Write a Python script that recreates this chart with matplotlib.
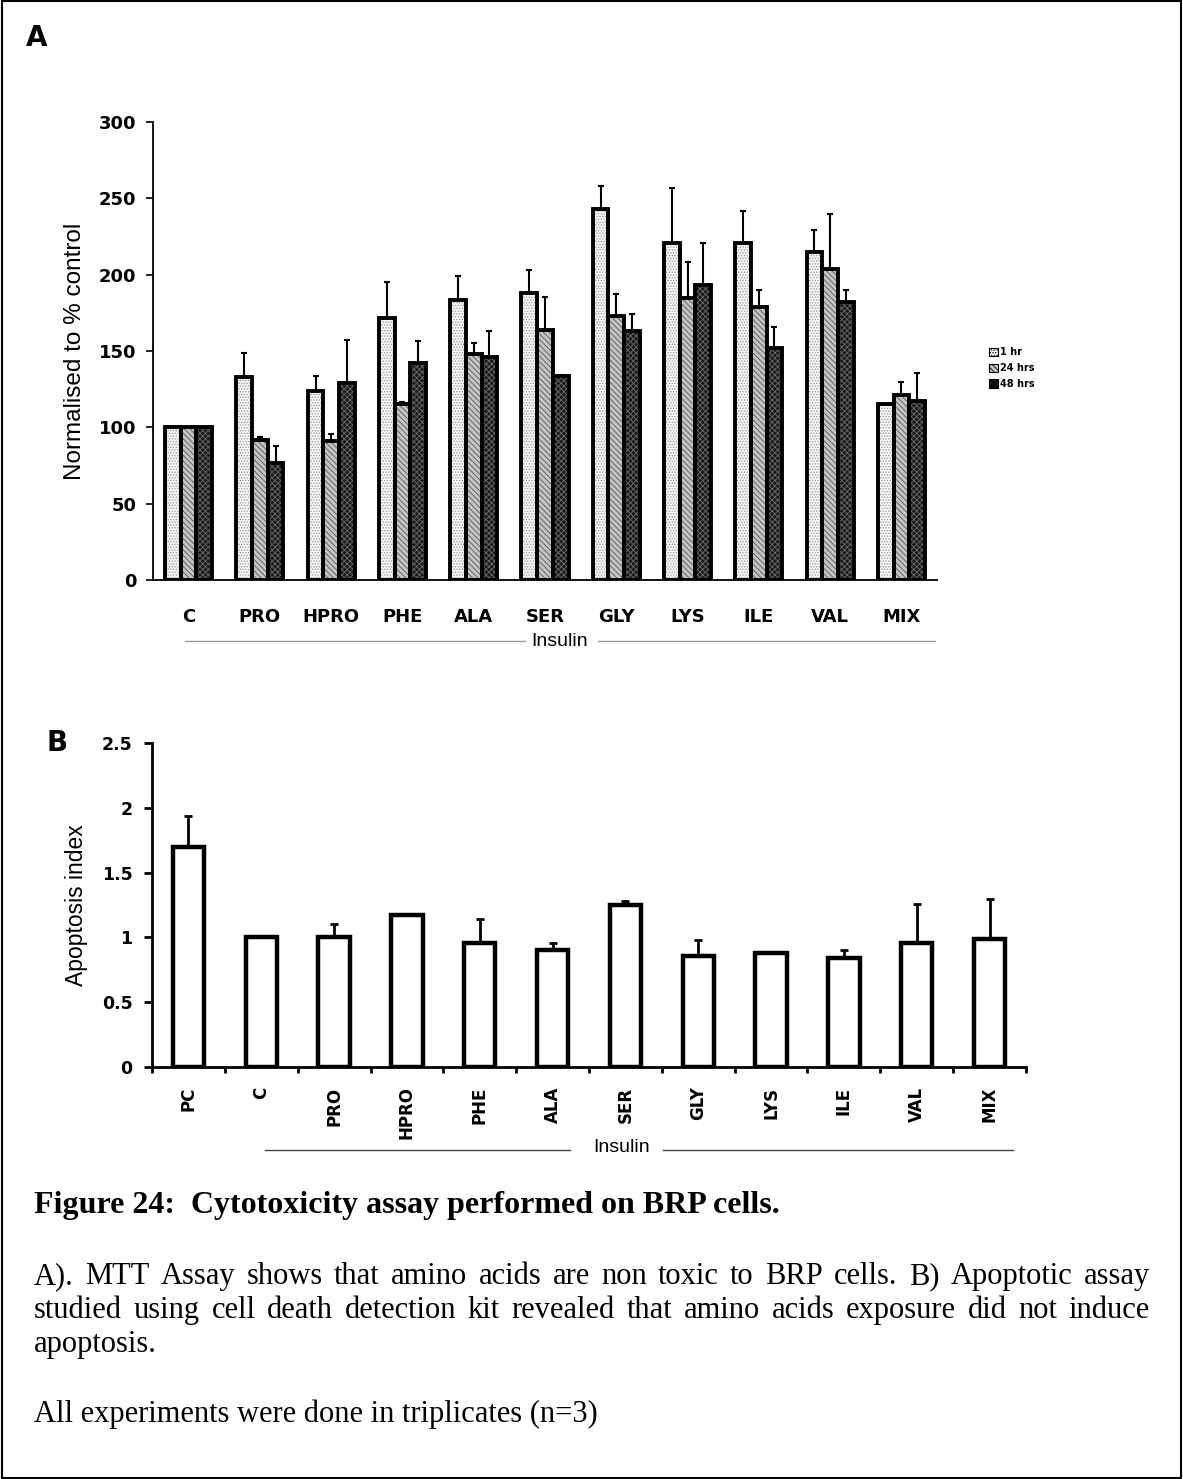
import numpy as np
import matplotlib
matplotlib.use("Agg")
import matplotlib.pyplot as plt
from matplotlib.patches import Patch, Rectangle
from matplotlib.lines import Line2D

W, H = 1183, 1479

# panel A: MTT assay, normalised to % control
groups_a = ["C", "PRO", "HPRO", "PHE", "ALA", "SER", "GLY", "LYS", "ILE", "VAL", "MIX"]
series_a = ["1 hr", "24 hrs", "48 hrs"]
mean_1h = [100, 133, 124, 171.5, 183.5, 188, 243, 220.5, 220.5, 215, 115]
mean_24h = [100, 91.5, 91, 115, 148, 164, 173, 184.5, 178.5, 203.5, 121.5]
mean_48h = [100, 76.5, 129, 142, 146, 133.5, 163, 193, 152, 182, 117]
err_1h = [0, 16, 9.5, 23.5, 15.5, 15, 15, 36, 21, 14, 0]
err_24h = [0, 2, 4.5, 1.5, 7, 21.5, 14.5, 23.5, 11.5, 36, 8.5]
err_48h = [0, 11, 28, 14.5, 17, 0.5, 11, 27.5, 13.5, 8, 18.5]
yticks_a = [0, 50, 100, 150, 200, 250, 300]

# panel B: apoptosis index
groups_b = ["PC", "C", "PRO", "HPRO", "PHE", "ALA", "SER", "GLY", "LYS", "ILE", "VAL", "MIX"]
apop = [1.70, 1.0, 1.0, 1.17, 0.96, 0.90, 1.25, 0.86, 0.88, 0.84, 0.96, 0.99]
apop_err = [0.24, 0, 0.10, 0, 0.18, 0.06, 0.03, 0.12, 0.01, 0.06, 0.30, 0.31]
yticks_b = [0, 0.5, 1, 1.5, 2, 2.5]
ytick_labels_b = ["0", "0.5", "1", "1.5", "2", "2.5"]

caption_title = "Figure 24:  Cytotoxicity assay performed on BRP cells."
caption_lines = [
    "A). MTT Assay shows that amino acids are non toxic to BRP cells. B) Apoptotic assay",
    "studied using cell death detection kit revealed that amino acids exposure did not induce",
    "apoptosis.",
]
caption_note = "All experiments were done in triplicates (n=3)"

plt.rcParams["hatch.linewidth"] = 0.6


def fx(px):
    return px / W


def fy(py):
    return 1 - py / H


fig = plt.figure(figsize=(W / 100, H / 100), dpi=100)

# ---------------- panel A ----------------
axA = fig.add_axes([fx(153), fy(580), fx(937) - fx(153), fy(122) - fy(580)])
x = np.arange(len(groups_a))
bw = 0.22
styles = [
    dict(face="#f4f4f4", hatch="......", hcol="#9a9a9a"),
    dict(face="#c4c4c4", hatch="\\\\\\\\\\\\", hcol="#555555"),
    dict(face="#1a1a1a", hatch="xxxxxx", hcol="#6a6a6a"),
]
means = [mean_1h, mean_24h, mean_48h]
errs = [err_1h, err_24h, err_48h]
for i, (m, e, st) in enumerate(zip(means, errs, styles)):
    pos = x + (i - 1) * bw
    axA.bar(pos, m, bw, color=st["face"], hatch=st["hatch"], edgecolor=st["hcol"], lw=0, zorder=2)
    axA.bar(pos, m, bw, fill=False, edgecolor="black", lw=2.8, zorder=3)
    axA.errorbar(pos, m, yerr=[np.zeros(len(m)), e], fmt="none", ecolor="black",
                 elinewidth=1.5, capsize=2.5, capthick=1.5, zorder=4)

axA.set_xlim(-0.5, 10.5)
axA.set_ylim(0, 300)
axA.set_yticks(yticks_a)
axA.set_yticklabels([str(v) for v in yticks_a], fontsize=13, fontweight="bold")
axA.set_xticks(x)
axA.set_xticklabels(groups_a, fontsize=13, fontweight="bold")
axA.tick_params(axis="x", length=0, pad=20)
axA.tick_params(axis="y", length=5, width=1.2, direction="out", pad=7)
for s in ["top", "right"]:
    axA.spines[s].set_visible(False)
axA.spines["left"].set_linewidth(1.3)
axA.spines["bottom"].set_linewidth(1.3)
axA.set_ylabel("Normalised to % control", fontsize=17.5, family="Liberation Sans", labelpad=9)

handles = [Patch(facecolor=st["face"], hatch=st["hatch"], edgecolor="black", lw=0.8) for st in styles]
fig.legend(handles, series_a, loc="center left", bbox_to_anchor=(fx(980), fy(368)),
           frameon=False, handlelength=1.0, handleheight=0.9,
           handletextpad=0.2, labelspacing=0.6, prop={"weight": "bold", "size": 7})

fig.text(fx(560), fy(641), "Insulin", ha="center", va="center", fontsize=14, family="Liberation Sans")
fig.add_artist(Line2D([fx(185), fx(525)], [fy(641), fy(641)], color="#9a9a9a", lw=1))
fig.add_artist(Line2D([fx(598), fx(935)], [fy(641), fy(641)], color="#9a9a9a", lw=1))
fig.text(fx(26), fy(38), "A", ha="left", va="center", fontsize=20, fontweight="bold")

# ---------------- panel B ----------------
axB = fig.add_axes([fx(152), fy(1067), fx(1026) - fx(152), fy(743) - fy(1067)])
xb = np.arange(len(groups_b))
axB.bar(xb, apop, 0.43, color="white", edgecolor="black", lw=3.2, zorder=2)
axB.errorbar(xb, apop, yerr=[np.zeros(len(apop)), apop_err], fmt="none", ecolor="black",
             elinewidth=2, capsize=3, capthick=2, zorder=3)
axB.set_xlim(-0.5, 11.5)
axB.set_ylim(0, 2.5)
axB.set_yticks(yticks_b)
axB.set_yticklabels(ytick_labels_b, fontsize=12.5, fontweight="bold")
axB.set_xticks(xb)
axB.set_xticklabels(groups_b, rotation=90, fontsize=12, fontweight="bold", va="top")
axB.set_xticks(np.arange(-0.5, 12, 1), minor=True)
axB.tick_params(axis="x", which="major", length=0, pad=14)
axB.tick_params(axis="x", which="minor", length=4, width=2)
axB.tick_params(axis="y", length=6, width=2, pad=8)
for s in ["top", "right"]:
    axB.spines[s].set_visible(False)
axB.spines["left"].set_linewidth(2)
axB.spines["bottom"].set_linewidth(2)
axB.set_ylabel("Apoptosis index", fontsize=16.5, family="Liberation Sans", labelpad=10)

fig.text(fx(622), fy(1148), "Insulin", ha="center", va="center", fontsize=14, family="Liberation Sans")
fig.add_artist(Line2D([fx(265), fx(570)], [fy(1150), fy(1150)], color="#444444", lw=1))
fig.add_artist(Line2D([fx(663), fx(1013)], [fy(1150), fy(1150)], color="#444444", lw=1))
fig.text(fx(46), fy(743), "B", ha="left", va="center", fontsize=20, fontweight="bold")

# ---------------- caption ----------------
serif = "Liberation Serif"
body = 22
# baselines (px from top)
fig.text(fx(34), fy(1213), caption_title, ha="left", va="baseline", fontsize=23,
         fontweight="bold", family=serif)

renderer = fig.canvas.get_renderer()


def justified(line, y, x0=34, x1=1150, size=body):
    words = line.split(" ")
    widths = []
    for w in words:
        t = fig.text(0, 0, w, fontsize=size, family=serif)
        widths.append(t.get_window_extent(renderer).width)
        t.remove()
    gap = (x1 - x0 - sum(widths)) / (len(words) - 1)
    xp = x0
    for w, wd in zip(words, widths):
        fig.text(fx(xp), fy(y), w, ha="left", va="baseline", fontsize=size, family=serif)
        xp += wd + gap


justified(caption_lines[0], 1284)
justified(caption_lines[1], 1318)
fig.text(fx(34), fy(1352), caption_lines[2], ha="left", va="baseline", fontsize=body, family=serif)
fig.text(fx(34), fy(1422), caption_note, ha="left", va="baseline", fontsize=body, family=serif)

fig.add_artist(Rectangle((0.0015, 0.001), 0.997, 0.998, transform=fig.transFigure,
                         fill=False, edgecolor="black", lw=1.5))

fig.savefig("out.png", dpi=100)
